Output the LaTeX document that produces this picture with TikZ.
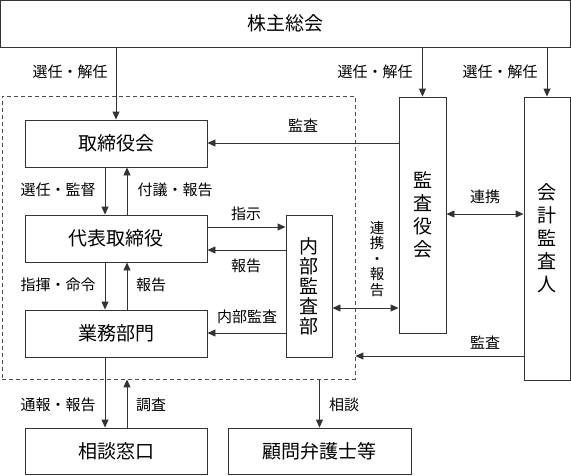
\documentclass[tikz,border=0pt]{standalone}
\usepackage{fontspec}
\setmainfont{Noto Sans CJK JP}
\usetikzlibrary{arrows.meta}
\begin{document}
\begin{tikzpicture}[x=1pt,y=-1pt,
  ln/.style={draw=black!80, line width=0.9pt},
  box/.style={draw=black!80, line width=0.9pt, inner sep=0pt, font=\fontsize{19}{21}\selectfont},
  vbox/.style={box, align=center, font=\fontsize{19}{23}\selectfont},
  lab/.style={font=\fontsize{15}{16}\selectfont, inner sep=0pt},
  vlab/.style={lab, align=center, font=\fontsize{14.5}{15.5}\selectfont},
  arr/.style={ln, -{Triangle[length=8pt,width=7pt]}},
  darr/.style={ln, {Triangle[length=8pt,width=7pt]}-{Triangle[length=8pt,width=7pt]}}]
\useasboundingbox (0,0) rectangle (571,475);

% dashed group
\node[draw=black!70, line width=0.8pt, dash pattern=on 4pt off 3pt, minimum width=353pt, minimum height=283pt, inner sep=0pt] (grp) at (178.5,237.5) {};

% boxes
\node[box, minimum width=570pt, minimum height=46.5pt] (sh) at (285.5,23.75) {株主総会};
\node[box, minimum width=182pt, minimum height=47pt] (tb) at (116,143.5) {取締役会};
\node[box, minimum width=182pt, minimum height=47pt] (dh) at (116,238.5) {代表取締役};
\node[box, minimum width=182pt, minimum height=47pt] (gm) at (116,333.5) {業務部門};
\node[box, minimum width=182pt, minimum height=46.5pt] (sd) at (116,451.25) {相談窓口};
\node[box, minimum width=183pt, minimum height=46.5pt] (kb) at (319.5,451.25) {顧問弁護士等};
\node[vbox, minimum width=46pt, minimum height=142pt, font=\fontsize{19}{20}\selectfont] (nb) at (309,286) {内\\部\\監\\査\\部};
\node[vbox, minimum width=47pt, minimum height=236pt] (kay) at (422.5,215) {監\\査\\役\\会};
\node[vbox, minimum width=46pt, minimum height=283pt] (kk) at (547,238.5) {会\\計\\監\\査\\人};

% top arrows
\draw[arr] (sh.south -| tb.north) -- (tb.north);
\draw[arr] (sh.south -| kay.north) -- (kay.north);
\draw[arr] (sh.south -| kk.north) -- (kk.north);
\node[lab] (l1) at (70,72) {選任・解任};
\node[lab] (l2) at (375,72) {選任・解任};
\node[lab] (l3) at (500,72) {選任・解任};

% audit to board
\draw[arr] (kay.west |- 0,143) -- (tb.east |- 0,143);
\node[lab] (l4) at (303,126) {監査};

% board <-> rep
\draw[arr] (tb.south -| 105,0) -- (dh.north -| 105,0);
\draw[arr] (dh.north -| 127,0) -- (tb.south -| 127,0);
\node[lab] (l5) at (58,190) {選任・監督};
\node[lab] (l6) at (175,190) {付議・報告};

% rep <-> internal audit
\draw[arr] (dh.east |- 0,227) -- (nb.west |- 0,227);
\draw[arr] (nb.west |- 0,250) -- (dh.east |- 0,250);
\node[lab] (l7) at (246,214) {指示};
\node[lab] (l8) at (246,266) {報告};

% rep <-> business
\draw[arr] (dh.south -| 105,0) -- (gm.north -| 105,0);
\draw[arr] (gm.north -| 127,0) -- (dh.south -| 127,0);
\node[lab] (l9) at (58,285) {指揮・命令};
\node[lab] (l10) at (151,285) {報告};

% internal audit -> business
\draw[arr] (nb.west |- 0,333) -- (gm.east |- 0,333);
\node[lab] (l11) at (247,317) {内部監査};

% internal audit <-> kansayakukai
\draw[darr] (nb.east |- 0,308) -- (kay.west |- 0,308);
\node[vlab] (l12) at (377,259) {連\\携\\・\\報\\告};

% kansayakukai <-> kaikei
\draw[darr] (kay.east |- 0,214) -- (kk.west |- 0,214);
\node[lab] (l13) at (485,197) {連携};

% kaikei -> group
\draw[arr] (kk.west |- 0,356) -- (grp.east |- 0,356);
\node[lab] (l14) at (485,343) {監査};

% bottom
\draw[arr] (gm.south -| 105,0) -- (sd.north -| 105,0);
\draw[arr] (sd.north -| 127,0) -- (grp.south -| 127,0);
\node[lab] (l15) at (58,405) {通報・報告};
\node[lab] (l16) at (151,405) {調査};
\draw[arr] (grp.south -| kb.north) -- (kb.north);
\node[lab] (l17) at (344,405) {相談};
\end{tikzpicture}
\end{document}
